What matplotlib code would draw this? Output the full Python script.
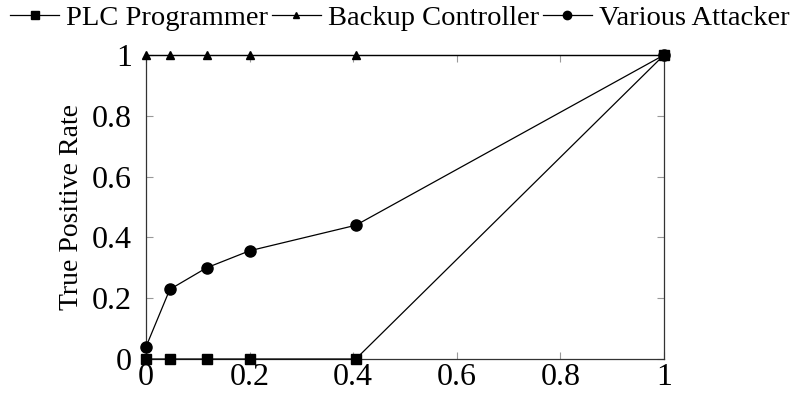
import matplotlib
matplotlib.use("Agg")
import matplotlib.pyplot as plt

plt.rcParams['font.family'] = ['Liberation Serif', 'DejaVu Serif']

fpr = [0, 0.046, 0.117, 0.2, 0.405, 1]
plc = [0, 0, 0, 0, 0, 1]
backup = [1, 1, 1, 1, 1, 1]
various = [0.04, 0.229, 0.30, 0.356, 0.44, 1]

ticks = [0, 0.2, 0.4, 0.6, 0.8, 1]
ticklabels = ['0', '0.2', '0.4', '0.6', '0.8', '1']

fig = plt.figure(figsize=(7.96, 3.96), dpi=100)
ax = fig.add_axes([0.1834, 0.0934, 0.6508, 0.7677])

ax.plot(fpr, plc, '-s', color='black', lw=0.9, ms=7, label='PLC Programmer', clip_on=False, zorder=3)
ax.plot(fpr, backup, '-^', color='black', lw=0.9, ms=6, label='Backup Controller', clip_on=False, zorder=3)
ax.plot(fpr, various, '-o', color='black', lw=0.9, ms=8, label='Various Attacker', clip_on=False, zorder=3)

ax.set_xlim(0, 1)
ax.set_ylim(0, 1)
ax.set_xticks(ticks)
ax.set_xticklabels(ticklabels)
ax.set_yticks(ticks)
ax.set_yticklabels(ticklabels)
ax.tick_params(direction='in', length=5, color='#999999', width=0.8,
               top=True, right=True, labelsize=23)
ax.tick_params(axis='x', pad=3)
ax.tick_params(axis='y', pad=10)
for s in ax.spines.values():
    s.set_linewidth(0.9)
    s.set_color('#333333')
ax.set_ylabel('True Positive Rate', fontsize=20, labelpad=6)

ax.legend(loc='lower center', bbox_to_anchor=(0.49, 1.06), ncol=3, frameon=False,
          fontsize=20.5, handlelength=1.7, handletextpad=0.25, columnspacing=0.15,
          borderpad=0.1, borderaxespad=0.1, markerscale=0.75)

fig.savefig('out.png', dpi=100)
